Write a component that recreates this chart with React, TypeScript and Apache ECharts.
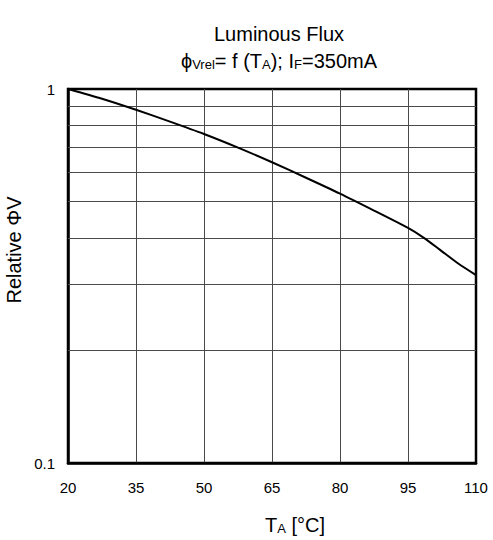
import React, { useEffect, useRef } from 'react';
import * as echarts from 'echarts';

// Ambient temperature T_A in °C
const temperature = [20, 27.5, 35, 42.5, 50, 57.5, 65, 72.5, 80, 87.5, 95, 98.5, 102, 106, 110];
// Relative luminous flux Φv,rel
const relativeFlux = [1.0, 0.942, 0.88, 0.818, 0.758, 0.697, 0.637, 0.579, 0.525, 0.473, 0.425, 0.4, 0.372, 0.342, 0.318];

const xMin = 20;
const xMax = 110;
const xStep = 15;
const yMin = 0.1;
const yMax = 1;
const yMinorGrid = [0.2, 0.3, 0.4, 0.5, 0.6, 0.7, 0.8, 0.9];

const FONT = "'Liberation Sans', Arial, Helvetica, sans-serif";

export default function App() {
  const ref = useRef<HTMLDivElement>(null);

  useEffect(() => {
    if (!ref.current) return;
    const chart = echarts.init(ref.current, null, { renderer: 'svg' });
    const gridColor = '#4a4a4a';
    chart.setOption({
      animation: false,
      backgroundColor: '#fff',
      textStyle: { fontFamily: FONT },
      grid: {
        left: 68,
        right: 17,
        top: 89,
        bottom: 77,
        show: true,
        borderColor: '#000',
        borderWidth: 2.5,
        backgroundColor: 'transparent',
      },
      xAxis: {
        type: 'value',
        min: xMin,
        max: xMax,
        interval: xStep,
        axisLine: { show: true, lineStyle: { color: '#000', width: 2.5 } },
        axisTick: { show: false },
        axisLabel: { color: '#000', fontSize: 15, margin: 17, fontFamily: FONT },
        splitLine: {
          show: true,
          showMinLine: false,
          showMaxLine: false,
          lineStyle: { color: gridColor, width: 1 },
        },
      },
      yAxis: {
        type: 'log',
        logBase: 10,
        min: yMin,
        max: yMax,
        axisLine: { show: true, lineStyle: { color: '#000', width: 2.5 } },
        axisTick: { show: false },
        axisLabel: { color: '#000', fontSize: 15, margin: 13, fontFamily: FONT },
        splitLine: { show: false },
      },
      series: [
        {
          type: 'line',
          data: temperature.map((t, i) => [t, relativeFlux[i]]),
          smooth: 0.25,
          showSymbol: false,
          symbol: 'none',
          lineStyle: { color: '#000', width: 2 },
          z: 5,
          markLine: {
            silent: true,
            symbol: ['none', 'none'],
            label: { show: false },
            lineStyle: { color: gridColor, width: 1, type: 'solid' },
            emphasis: { disabled: true },
            data: yMinorGrid.map((v) => ({ yAxis: v })),
            z: 1,
          },
        },
      ],
      graphic: [
        {
          type: 'text',
          x: 279,
          y: 34,
          style: {
            text: 'Luminous Flux',
            fill: '#000',
            font: `20px ${FONT}`,
            textAlign: 'center',
            align: 'center',
            textVerticalAlign: 'middle',
            verticalAlign: 'middle',
          },
        },
        {
          type: 'text',
          x: 279,
          y: 61,
          style: {
            text: 'ϕ{s|Vrel}= f (T{s|A}); I{s|F}=350mA',
            fill: '#000',
            font: `20px ${FONT}`,
            textAlign: 'center',
            align: 'center',
            textVerticalAlign: 'middle',
            verticalAlign: 'middle',
            rich: {
              s: { fontSize: 13, fontFamily: FONT, verticalAlign: 'bottom', fill: '#000' },
            },
          },
        },
        {
          type: 'text',
          x: 295,
          y: 525,
          style: {
            text: 'T{s|A} [°C]',
            fill: '#000',
            font: `20px ${FONT}`,
            textAlign: 'center',
            align: 'center',
            textVerticalAlign: 'middle',
            verticalAlign: 'middle',
            rich: {
              s: { fontSize: 13, fontFamily: FONT, verticalAlign: 'bottom', fill: '#000' },
            },
          },
        },
        {
          type: 'text',
          x: 14,
          y: 250,
          rotation: Math.PI / 2,
          style: {
            text: 'Relative ΦV',
            fill: '#000',
            font: `20px ${FONT}`,
            textAlign: 'center',
            align: 'center',
            textVerticalAlign: 'middle',
            verticalAlign: 'middle',
          },
        },
      ],
    });
    return () => chart.dispose();
  }, []);

  return (
    <div
      ref={ref}
      style={{ position: 'fixed', left: 0, top: 0, width: 493, height: 540 }}
    />
  );
}
